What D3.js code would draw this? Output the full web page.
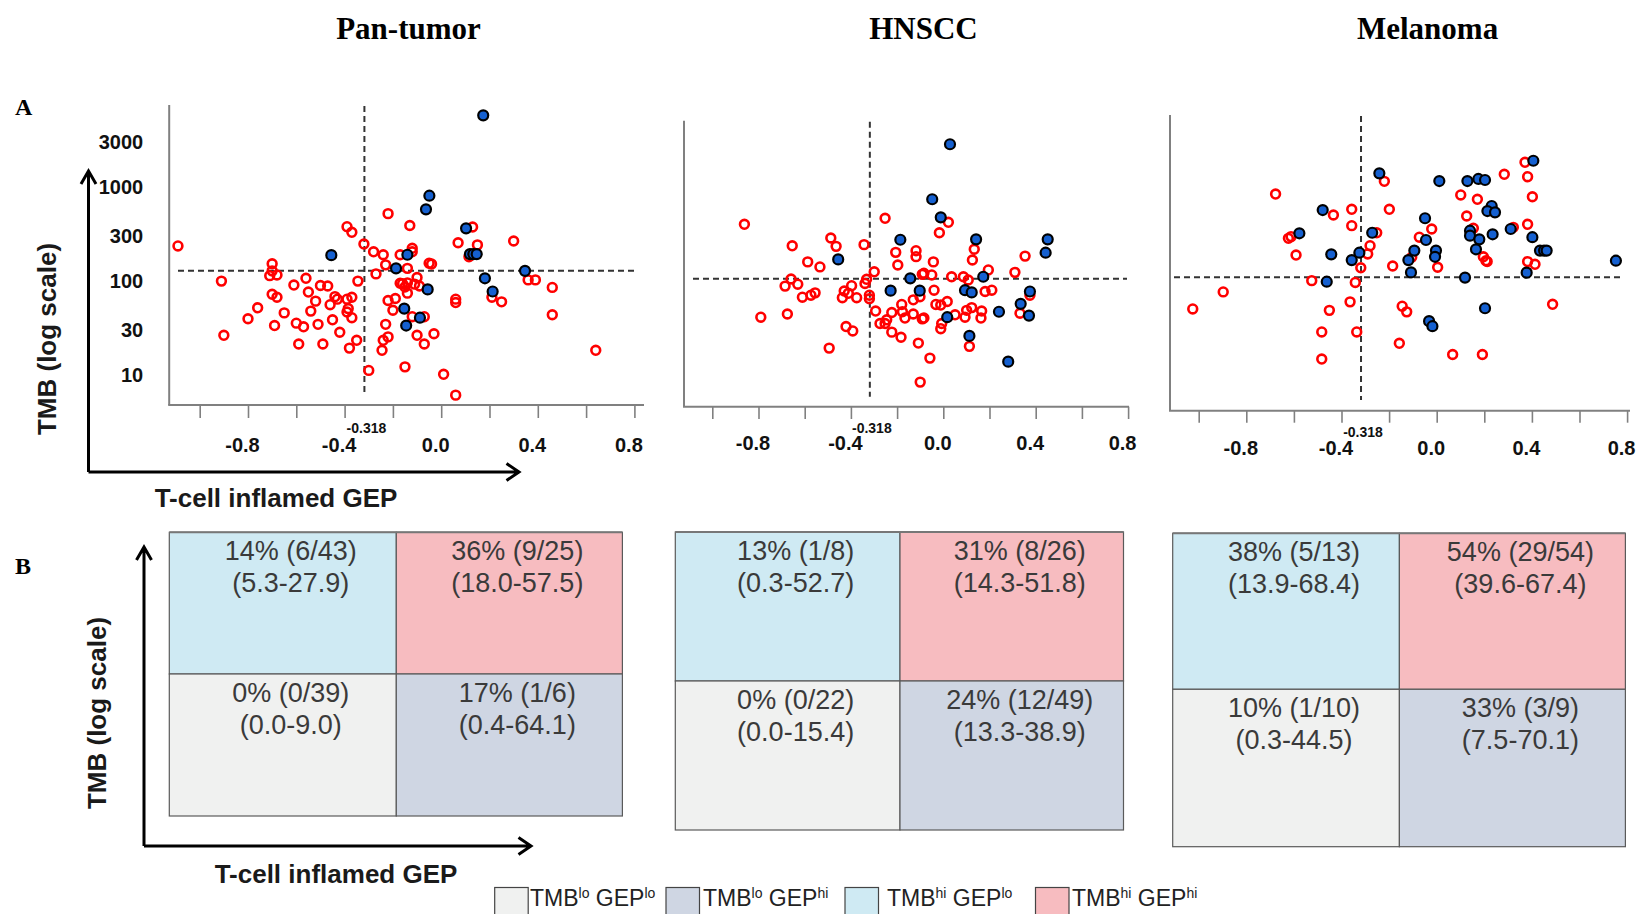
<!DOCTYPE html>
<html><head><meta charset="utf-8">
<script src="https://cdn.jsdelivr.net/npm/d3@7"></script>
<style>body{margin:0;background:#fff;} svg{display:block;}</style>
</head><body>
<svg id="chart" width="1640" height="914"></svg>
<script>
// ---------------- data ----------------
const panelTitles = ["Pan-tumor", "HNSCC", "Melanoma"];
const gepTicks = [-1.0, -0.8, -0.6, -0.4, -0.2, 0.0, 0.2, 0.4, 0.6, 0.8];
const gepTickLabels = [-0.8, -0.4, 0.0, 0.4, 0.8];
const tmbTicks = [10, 30, 100, 300, 1000, 3000];
const gepCut = -0.318;
const tmbCut = 126;

// [GEP, TMB] ; NR = non-responders (open red), R = responders (filled blue)
const panTumorNR = [[-1.09,232],[-0.91,98],[-0.90,26],[-0.80,39],[-0.76,51],[-0.70,150],[-0.70,126],[-0.71,112],[-0.68,114],[-0.70,71],[-0.68,66],[-0.69,33],[-0.65,45],[-0.61,89],[-0.56,105],[-0.55,75],[-0.60,35],[-0.57,32],[-0.59,21],[-0.54,47],[-0.52,60],[-0.50,88],[-0.47,87],[-0.51,34],[-0.49,21],[-0.45,38],[-0.44,67],[-0.46,55],[-0.43,63],[-0.42,28],[-0.39,63],[-0.37,66],[-0.385,50],[-0.39,46],[-0.37,40],[-0.38,19],[-0.35,23],[-0.345,98],[-0.39,372],[-0.37,324],[-0.32,243],[-0.30,11],[-0.28,201],[-0.24,187],[-0.23,146],[-0.27,117],[-0.22,512],[-0.22,61],[-0.20,48],[-0.23,34],[-0.22,25],[-0.24,23],[-0.245,18],[-0.17,187],[-0.15,12],[-0.13,383],[-0.17,93],[-0.19,64],[-0.16,92],[-0.12,219],[-0.12,201],[-0.14,134],[-0.14,94],[-0.10,107],[-0.11,91],[-0.09,87],[-0.14,73],[-0.15,85],[-0.12,41],[-0.07,41],[-0.10,26],[-0.07,21],[-0.03,27],[0.01,10],[0.06,6],[-0.05,152],[-0.04,149],[0.06,63],[0.06,58],[0.07,251],[0.13,369],[0.15,238],[0.115,178],[0.21,66],[0.25,59],[0.30,262],[0.36,101],[0.39,101],[0.46,84],[0.46,43],[0.64,18]];
const panTumorR = [[0.174,5690],[-0.049,794],[-0.063,569],[0.103,357],[-0.455,185],[-0.140,187],[0.119,190],[0.133,190],[0.147,190],[-0.187,134],[0.347,126],[0.181,105],[0.213,76],[-0.056,80],[-0.153,50],[-0.088,40],[-0.145,33]];

const hnsccNR = [[-0.861,477],[-0.654,282],[-0.587,190],[-0.534,168],[-0.487,341],[-0.464,278],[-0.343,290],[-0.252,553],[-0.659,125],[-0.685,105],[-0.630,110],[-0.610,80],[-0.573,84],[-0.555,89],[-0.790,49],[-0.675,53],[-0.494,23],[-0.421,39],[-0.392,35],[-0.429,93],[-0.437,79],[-0.411,88],[-0.397,106],[-0.375,79],[-0.339,112],[-0.332,124],[-0.320,84],[-0.320,77],[-0.299,149],[-0.293,57],[-0.274,42],[-0.252,42],[-0.245,46],[-0.223,55],[-0.223,34],[-0.183,30],[-0.206,240],[-0.197,176],[-0.180,67],[-0.177,56],[-0.166,48],[-0.130,75],[-0.130,53],[-0.118,250],[-0.118,216],[-0.108,26],[-0.100,10],[-0.091,140],[-0.091,47],[0.022,501],[-0.017,388],[0.134,259],[0.126,199],[-0.043,190],[-0.084,144],[-0.050,138],[0.036,132],[0.087,132],[0.108,122],[0.195,156],[0.310,147],[0.354,219],[-0.040,95],[-0.032,67],[-0.011,66],[0.017,72],[0.181,92],[0.210,95],[0.101,58],[0.123,62],[0.166,57],[0.163,48],[0.051,52],[0.094,49],[-0.007,42],[-0.011,37],[-0.084,48],[0.332,54],[0.375,84],[0.113,24],[-0.058,18],[-0.101,81]];
const hnsccR = [[-0.455,202],[-0.186,327],[-0.228,94],[-0.143,127],[-0.102,94],[0.029,3390],[-0.048,881],[-0.011,566],[0.142,330],[0.452,330],[0.443,238],[0.173,132],[0.094,95],[0.123,90],[0.375,92],[0.335,68],[0.371,51],[0.241,56],[0.017,49],[0.113,31],[0.281,16.5]];

const melanomaNR = [[-1.025,58],[-0.897,88],[-0.677,968],[-0.623,327],[-0.612,341],[-0.591,217],[-0.525,116],[-0.451,56],[-0.483,33],[-0.483,17],[-0.434,579],[-0.357,666],[-0.357,446],[-0.364,69],[-0.342,111],[-0.336,33],[-0.319,159],[-0.290,223],[-0.280,273],[-0.252,375],[-0.220,1321],[-0.199,666],[-0.185,166],[-0.157,25],[-0.145,62],[-0.126,54],[0.371,2105],[0.284,1570],[0.382,1479],[0.402,906],[0.101,946],[0.171,851],[0.126,565],[-0.021,411],[-0.073,336],[0.154,418],[0.322,428],[0.382,461],[-0.105,206],[0.004,161],[0.196,208],[0.207,189],[0.212,185],[0.382,185],[0.413,173],[0.487,65],[0.067,19],[0.192,19]];
const melanomaR = [[-0.241,1607],[-0.479,654],[-0.577,370],[-0.443,221],[-0.357,192],[-0.325,230],[-0.271,375],[-0.462,113],[0.406,2188],[0.011,1330],[0.129,1330],[0.175,1400],[0.203,1365],[0.231,722],[0.213,638],[0.245,618],[-0.049,535],[0.140,394],[0.140,349],[0.179,319],[0.165,250],[0.235,361],[0.311,411],[0.402,336],[0.434,242],[0.451,242],[0.462,242],[0.753,189],[-0.045,314],[-0.094,242],[-0.119,192],[-0.003,242],[-0.007,208],[-0.108,142],[0.119,125],[0.378,141],[0.203,59],[-0.032,43],[-0.018,38]];

// quadrant order: TMBhi GEPlo, TMBhi GEPhi, TMBlo GEPlo, TMBlo GEPhi
const quadrantKeys = ["hilo", "hihi", "lolo", "lohi"];
const panTumorQuad = [["14% (6/43)","(5.3-27.9)"],["36% (9/25)","(18.0-57.5)"],["0% (0/39)","(0.0-9.0)"],["17% (1/6)","(0.4-64.1)"]];
const hnsccQuad = [["13% (1/8)","(0.3-52.7)"],["31% (8/26)","(14.3-51.8)"],["0% (0/22)","(0.0-15.4)"],["24% (12/49)","(13.3-38.9)"]];
const melanomaQuad = [["38% (5/13)","(13.9-68.4)"],["54% (29/54)","(39.6-67.4)"],["10% (1/10)","(0.3-44.5)"],["33% (3/9)","(7.5-70.1)"]];

const legendKeys = ["lolo", "lohi", "hilo", "hihi"];
const legendSups = [["lo","lo"],["lo","hi"],["hi","lo"],["hi","hi"]];

// ---------------- styling / layout ----------------
const quadColor = {hilo:"#cfeaf3", hihi:"#f7bcc0", lolo:"#f0f1f0", lohi:"#cfd6e3"};
const RED = "#ff0000", BLUE = "#1560d0", AXIS = "#808080";

const layout = [
  {yAxisX:169.2, top:105, bottom:405, right:644, x0:441.2, xUnit:241.5, y100:280.3, tick:13, labelY:452, cutY:433, vBot:395, hL:178, hR:634, titleX:408.5,
   g:{l:169.3, t:532.3, mx:396.3, r:622.4, my:674, b:816}},
  {yAxisX:684, top:120.7, bottom:406.7, right:1129, x0:943.3, xUnit:231, y100:288.1, tick:12.3, labelY:450, cutY:433, vBot:396.7, hL:693, hR:1127, titleX:923.5,
   g:{l:675.3, t:532, mx:900, r:1123.5, my:681, b:830}},
  {yAxisX:1170, top:115, bottom:410.7, right:1630, x0:1436.7, xUnit:238, y100:286.7, tick:12, labelY:455, cutY:437, vBot:400, hL:1174, hR:1620, titleX:1427.6,
   g:{l:1172.7, t:533.3, mx:1399.4, r:1625.4, my:689.3, b:846.7}}
];
const panelData = [
  {nr: panTumorNR, r: panTumorR, quad: panTumorQuad, yLabels: true},
  {nr: hnsccNR, r: hnsccR, quad: hnsccQuad, yLabels: false},
  {nr: melanomaNR, r: melanomaR, quad: melanomaQuad, yLabels: false}
];

const svg = d3.select("#chart");
const SANS = "'Liberation Sans', Arial, sans-serif";
const SERIF = "'Liberation Serif', 'Times New Roman', serif";

// titles and panel letters
panelTitles.forEach((t, i) => {
  svg.append("text").attr("x", layout[i].titleX).attr("y", 39).attr("text-anchor", "middle")
    .attr("font-family", SERIF).attr("font-weight", "bold").attr("font-size", 31).attr("fill", "#000").text(t);
});
svg.append("text").attr("x", 15).attr("y", 115).attr("font-family", SERIF).attr("font-weight", "bold").attr("font-size", 24).text("A");
svg.append("text").attr("x", 15).attr("y", 574).attr("font-family", SERIF).attr("font-weight", "bold").attr("font-size", 24).text("B");

function arrowPair(ox, oy, topY, rightX) {
  const g = svg.append("g").attr("stroke", "#000").attr("stroke-width", 3).attr("fill", "none");
  g.append("path").attr("d", `M${ox},${oy}V${topY}M${ox-7.5},${topY+13}L${ox},${topY}L${ox+7.5},${topY+13}`);
  g.append("path").attr("d", `M${ox},${oy}H${rightX}M${rightX-12.5},${oy-8.5}L${rightX},${oy}L${rightX-12.5},${oy+8.5}`);
}
function axisTitles(yx, yy, xx, xy) {
  svg.append("text").attr("transform", `translate(${yx},${yy}) rotate(-90)`).attr("text-anchor", "middle")
    .attr("font-family", SANS).attr("font-weight", "bold").attr("font-size", 26).attr("fill", "#1a1a1a").text("TMB (log scale)");
  svg.append("text").attr("x", xx).attr("y", xy).attr("text-anchor", "middle")
    .attr("font-family", SANS).attr("font-weight", "bold").attr("font-size", 26).attr("fill", "#1a1a1a").text("T-cell inflamed GEP");
}
arrowPair(88.5, 472, 171, 519);
axisTitles(56, 339, 276, 507);
arrowPair(144, 846, 547, 531);
axisTitles(106, 713, 336, 883);

layout.forEach((L, i) => {
  const D = panelData[i];
  const x = d3.scaleLinear().domain([-1.0, 0.8]).range([L.x0 - L.xUnit, L.x0 + 0.8 * L.xUnit]);
  const y = d3.scaleLog().domain([10, 1000]).range([L.y100 + 94, L.y100 - 94]);
  const g = svg.append("g");

  // axis lines
  g.append("line").attr("x1", L.yAxisX).attr("x2", L.yAxisX).attr("y1", L.top).attr("y2", L.bottom)
    .attr("stroke", AXIS).attr("stroke-width", 2);
  g.append("line").attr("x1", L.yAxisX - 1).attr("x2", L.right).attr("y1", L.bottom).attr("y2", L.bottom)
    .attr("stroke", AXIS).attr("stroke-width", 2);

  // x axis ticks + labels
  const xa = g.append("g").attr("transform", `translate(0,${L.bottom})`)
    .call(d3.axisBottom(x).tickValues(gepTicks).tickSize(L.tick).tickSizeOuter(0)
      .tickFormat(d => gepTickLabels.some(v => Math.abs(v - d) < 1e-9) ? d.toFixed(1) : ""));
  xa.select(".domain").remove();
  xa.selectAll(".tick line").attr("stroke", AXIS).attr("stroke-width", 1.6);
  xa.selectAll(".tick text").attr("y", L.labelY - L.bottom).attr("dy", 0).attr("dx", -6)
    .attr("font-family", SANS).attr("font-weight", "bold").attr("font-size", 20).attr("fill", "#111");

  // y axis labels (pan-tumor only)
  if (D.yLabels) {
    const ya = g.append("g").attr("transform", `translate(${L.yAxisX},0)`)
      .call(d3.axisLeft(y).tickValues(tmbTicks).tickSize(0).tickPadding(26).tickFormat(d3.format("d")));
    ya.select(".domain").remove();
    ya.selectAll(".tick text").attr("dy", "0.36em").attr("font-family", SANS).attr("font-weight", "bold")
      .attr("font-size", 20).attr("fill", "#111");
  }

  // cut-off dashed lines
  g.append("line").attr("x1", x(gepCut)).attr("x2", x(gepCut)).attr("y1", L.top + 1).attr("y2", L.vBot)
    .attr("stroke", "#333").attr("stroke-width", 2).attr("stroke-dasharray", "6,4");
  g.append("line").attr("x1", L.hL).attr("x2", L.hR).attr("y1", y(tmbCut)).attr("y2", y(tmbCut))
    .attr("stroke", "#333").attr("stroke-width", 2).attr("stroke-dasharray", "6,4");
  g.append("text").attr("x", x(gepCut) + 2).attr("y", L.cutY).attr("text-anchor", "middle")
    .attr("font-family", SANS).attr("font-weight", "bold").attr("font-size", 14).attr("fill", "#111").text(gepCut);

  // points
  g.append("g").selectAll("circle").data(D.nr).join("circle")
    .attr("cx", d => x(d[0])).attr("cy", d => y(d[1])).attr("r", 4.4)
    .attr("fill", "none").attr("stroke", RED).attr("stroke-width", 2.6);
  g.append("g").selectAll("circle").data(D.r).join("circle")
    .attr("cx", d => x(d[0])).attr("cy", d => y(d[1])).attr("r", 5)
    .attr("fill", BLUE).attr("stroke", "#000").attr("stroke-width", 2.2);

  // quadrant grid (panel B)
  const G = L.g;
  const cells = [
    {x0:G.l, x1:G.mx, y0:G.t, y1:G.my},
    {x0:G.mx, x1:G.r, y0:G.t, y1:G.my},
    {x0:G.l, x1:G.mx, y0:G.my, y1:G.b},
    {x0:G.mx, x1:G.r, y0:G.my, y1:G.b}
  ];
  const qg = svg.append("g");
  qg.selectAll("rect").data(quadrantKeys).join("rect")
    .attr("x", (k, j) => cells[j].x0).attr("y", (k, j) => cells[j].y0)
    .attr("width", (k, j) => cells[j].x1 - cells[j].x0).attr("height", (k, j) => cells[j].y1 - cells[j].y0)
    .attr("fill", k => quadColor[k]).attr("stroke", "#5a5a5a").attr("stroke-width", 1.2);
  qg.append("line").attr("x1", G.l).attr("x2", G.r).attr("y1", G.t).attr("y2", G.t).attr("stroke", "#777").attr("stroke-width", 2);
  D.quad.forEach((lines, j) => {
    const c = cells[j];
    lines.forEach((s, li) => {
      qg.append("text").attr("x", (c.x0 + c.x1) / 2 + 8).attr("y", c.y0 + 19 + li * 32)
        .attr("dominant-baseline", "central").attr("text-anchor", "middle")
        .attr("font-family", SANS).attr("font-size", 27).attr("fill", "#3a3a3a").text(s);
    });
  });
});

// legend
const legendBoxX = [494.7, 666, 845, 1035.5];
const legendTextX = [530, 703, 887, 1072];
const lg = svg.append("g");
legendKeys.forEach((k, i) => {
  lg.append("rect").attr("x", legendBoxX[i]).attr("y", 887.5).attr("width", 33.5).attr("height", 30)
    .attr("fill", quadColor[k]).attr("stroke", "#444").attr("stroke-width", 1.2);
  const t = lg.append("text").attr("x", legendTextX[i]).attr("y", 906)
    .attr("font-family", SANS).attr("font-size", 23).attr("fill", "#222");
  t.append("tspan").text("TMB");
  t.append("tspan").attr("dy", -8).attr("font-size", 14).text(legendSups[i][0]);
  t.append("tspan").attr("dy", 8).text(" GEP");
  t.append("tspan").attr("dy", -8).attr("font-size", 14).text(legendSups[i][1]);
});
</script>
</body></html>
